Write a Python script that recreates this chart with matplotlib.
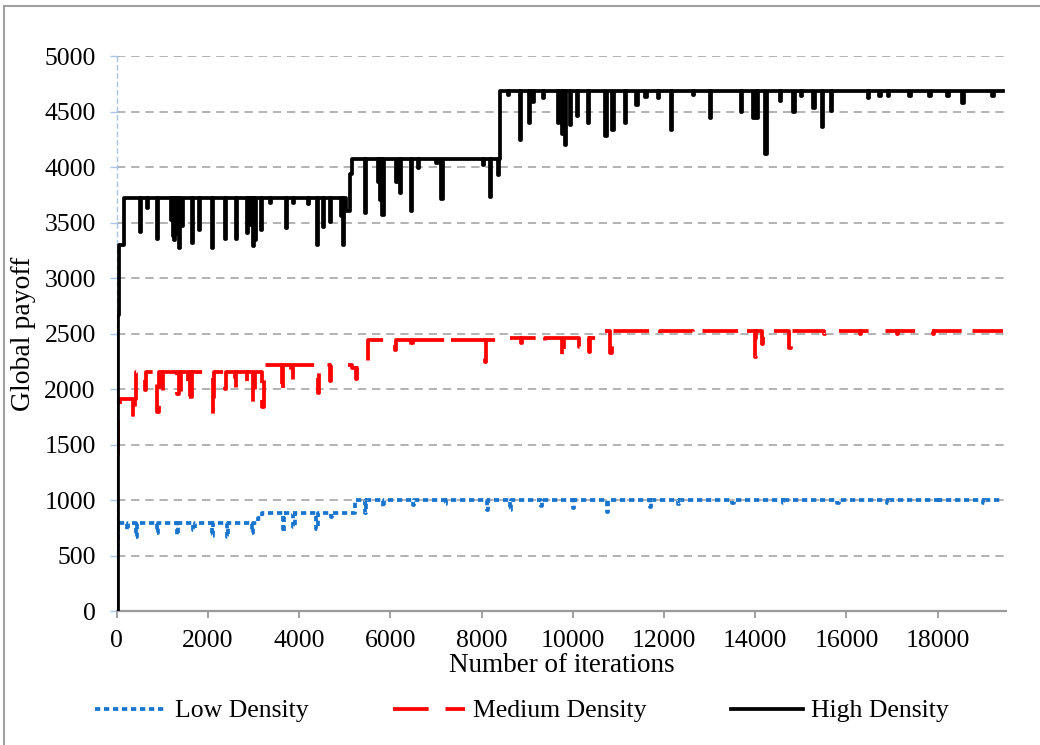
import matplotlib
matplotlib.use("Agg")
from matplotlib import pyplot as plt
from matplotlib.patches import Rectangle

# poziomy bazowe (schodki) i spadki dla każdej serii
high_step_x = [0, 20, 40, 160, 5020, 5110, 5160, 8400]
high_step_y = [0, 2670, 3300, 3725, 3606, 3940, 4075, 4685]
high_spike_x = [510, 664, 883, 1180, 1230, 1255, 1300, 1365, 1420, 1650, 1803, 2088, 2372, 2613, 2854,
                2920, 2986, 3020, 3161, 3358, 3709, 3862, 4190, 4388, 4520, 4673, 4920, 4958,
                5441, 5731, 5780, 5826, 6133, 6206, 6447, 6607, 7010, 7119, 8031, 8177, 8359,
                8578, 8834, 9038, 9126, 9345, 9674, 9760, 9820, 9930, 10090, 10331, 10712, 10865,
                11135, 11391, 11595, 11864, 12150, 12631, 13012, 13691, 13960, 14040, 14223,
                14545, 14837, 15005, 15275, 15465, 15662, 16465, 16721, 16903, 17378, 17816,
                18217, 18546, 19203]
high_spike_y = [3418, 3629, 3350, 3520, 3380, 3344, 3400, 3275, 3470, 3314, 3434, 3275, 3350, 3350, 3404,
                3480, 3290, 3340, 3434, 3680, 3455, 3674, 3668, 3299, 3464, 3509, 3560, 3299,
                3584, 3869, 3700, 3569, 3869, 3764, 3608, 3989, 4034, 3710, 4019, 3728, 3929,
                4649, 4244, 4400, 4589, 4619, 4400, 4300, 4199, 4379, 4460, 4394, 4280, 4334,
                4394, 4559, 4628, 4619, 4334, 4649, 4439, 4493, 4439, 4439, 4118,
                4599, 4499, 4640, 4529, 4358, 4508, 4619, 4640, 4640, 4640, 4640,
                4640, 4574, 4640]

med_step_x = [0, 15, 30, 70, 423, 3249, 5150, 5512, 8359, 10680]
med_step_y = [0, 1300, 1720, 1915, 2155, 2215, 2189, 2440, 2465, 2525]
med_spike_x = [365, 620, 890, 985, 1328, 1387, 1569, 1628, 2102, 2372, 2591, 2848, 2993, 3190,
               3614, 3833, 4417, 4673, 5242, 6096, 6462, 7228, 8068, 8863, 9354, 9768, 10147,
               10357, 10826, 11880, 12635, 13691, 13993, 14144, 14747, 15500, 16300, 17100,
               17900, 18700]
med_spike_y = [1730, 1994, 1798, 1933, 1958, 1958, 1928, 1928, 1778, 2000, 1988, 2039, 1880, 1844,
               1958, 2069, 1964, 2077, 2090, 2354, 2339, 2399, 2249, 2417, 2417, 2277, 2385,
               2338, 2323, 2490, 2490, 2490, 2292, 2407, 2370, 2495, 2495, 2495,
               2495, 2495]

low_step_x = [0, 10, 30, 3102, 3180, 5220]
low_step_y = [0, 600, 795, 839, 884, 1000]
low_spike_x = [219, 423, 876, 1314, 1679, 2081, 2410, 2957, 3636, 3869, 4381, 4700, 5439, 5840,
               6500, 7200, 8110, 8615, 9300, 10000, 10745, 11690, 12300, 13500, 14600, 15800,
               16900, 18000, 19000]
low_spike_y = [733, 668, 704, 689, 733, 680, 668, 704, 718, 763, 740, 850, 884, 944,
               960, 965, 913, 913, 950, 930, 900, 940, 970, 975, 975, 975,
               980, 980, 980]

x_end = 19440
x_ticks = list(range(0, 19000, 2000))
y_ticks = list(range(0, 5001, 500))


def build_path(step_x, step_y, spike_x, spike_y, end, w=30):
    events = [(x, 0, y) for x, y in zip(step_x, step_y)] + [(x, 1, y) for x, y in zip(spike_x, spike_y)]
    events.sort()
    xs, ys = [], []
    cur = step_y[0]
    for x, kind, y in events:
        if kind == 0:
            xs += [x, x]
            ys += [cur, y]
            cur = y
        else:
            xs += [x, x, x + w, x + w]
            ys += [cur, y, y, cur]
    xs.append(end)
    ys.append(cur)
    return xs, ys


plt.rcParams['font.family'] = ['Liberation Serif', 'DejaVu Serif']

fig = plt.figure(figsize=(10.4, 7.45), dpi=100)
ax = fig.add_axes([0.1122, 0.1792, 0.8551, 0.7456])

lx, ly = build_path(low_step_x, low_step_y, low_spike_x, low_spike_y, x_end)
mx, my = build_path(med_step_x, med_step_y, med_spike_x, med_spike_y, x_end)
hx, hy = build_path(high_step_x, high_step_y, high_spike_x, high_spike_y, x_end)

ax.plot(lx, ly, color="#1874cd", lw=2.7, linestyle=(0, (1.4, 1.0)), dash_capstyle="butt",
        label="Low Density", zorder=3)
ax.plot(mx, my, color="#ff0000", lw=2.7, linestyle=(0, (9.5, 4.5)), dash_capstyle="butt",
        label="Medium Density", zorder=4)
ax.plot(hx, hy, color="black", lw=2.7, label="High Density", zorder=5)

ax.set_xlim(0, 19500)
ax.set_ylim(0, 5000)
ax.set_xticks(x_ticks)
ax.set_yticks(y_ticks)
ax.tick_params(axis="both", labelsize=18.5, pad=10)
ax.tick_params(axis="x", direction="out", length=5, width=1.3, color="#9a9a9a", pad=8)
ax.tick_params(axis="y", direction="out", length=5, width=1, color="#a9c4eb")

for y in y_ticks[1:]:
    ax.axhline(y, color="#a6a6a6", lw=1.2, linestyle=(0, (5, 3.5)), zorder=1)

ax.spines["top"].set_visible(False)
ax.spines["right"].set_visible(False)
ax.spines["bottom"].set_color("#9a9a9a")
ax.spines["bottom"].set_linewidth(1.6)
ax.spines["left"].set_color("#a9c4eb")
ax.spines["left"].set_linewidth(1)
ax.spines["left"].set_linestyle((0, (3, 3)))

ax.set_xlabel("Number of iterations", fontsize=19.5, labelpad=1)
ax.set_ylabel("Global payoff", fontsize=20, labelpad=6)

fig.legend(loc="center", bbox_to_anchor=(522 / 1040, 1 - 711 / 745), ncol=3, frameon=False,
           fontsize=18.5, handlelength=2.8, handletextpad=0.3, columnspacing=3.3)

fig.patches.append(Rectangle((4 / 1040, -0.01), 1.2, 1.01 - 6 / 745, transform=fig.transFigure,
                             fill=False, edgecolor="#a0a0a0", lw=1.5))

fig.savefig("out.png", dpi=100)
